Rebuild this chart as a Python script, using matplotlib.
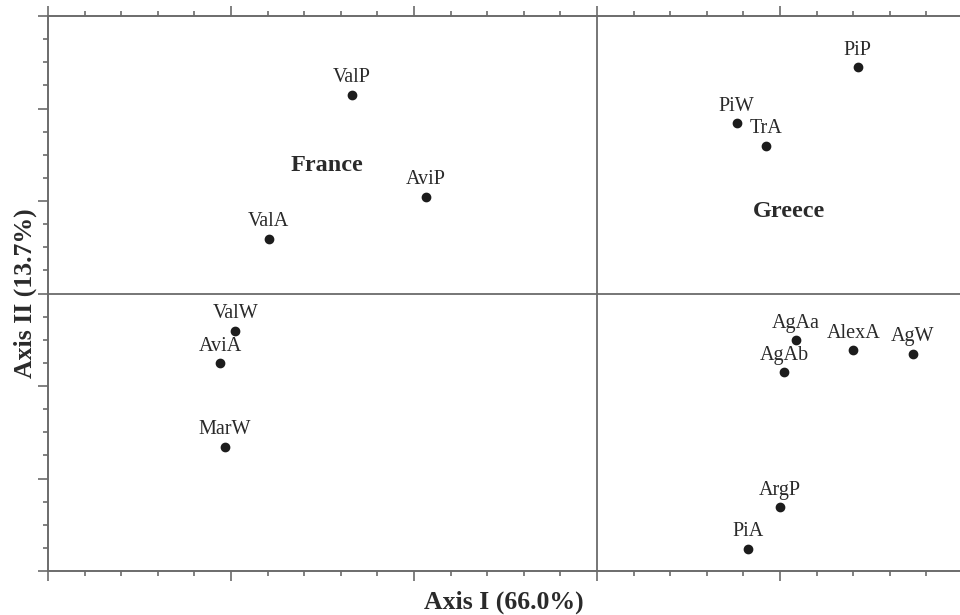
import matplotlib
matplotlib.use("Agg")
import matplotlib.pyplot as plt
from matplotlib.ticker import MultipleLocator

# sample scores on the first two axes
names = ['ValP', 'AviP', 'ValA', 'ValW', 'AviA', 'MarW',
         'PiP', 'PiW', 'TrA', 'AgAa', 'AlexA', 'AgW', 'AgAb', 'ArgP', 'PiA']
axis1 = [-1.340, -0.934, -1.794, -1.977, -2.060, -2.033,
         1.425, 0.763, 0.923, 1.086, 1.401, 1.725, 1.023, 1.000, 0.827]
axis2 = [2.146, 1.046, 0.592, -0.405, -0.755, -1.659,
         2.445, 1.840, 1.595, -0.503, -0.611, -0.654, -0.852, -2.311, -2.759]

groups = ['France', 'Greece']
group_x = [-1.475, 1.049]
group_y = [1.384, 0.886]

line_col = '#6b6b6b'
text_col = '#2a2a2a'
serif = 'Liberation Serif'

fig = plt.figure(figsize=(9.6, 6.15), dpi=100)
ax = fig.add_axes([48/960, 44/615, 912/960, 555/615])

ax.scatter(axis1, axis2, s=36, color='#1c1c1c', zorder=3)
for n, x, y in zip(names, axis1, axis2):
    ax.annotate(n, (x, y), xytext=(0, 9), textcoords='offset points',
                ha='center', va='baseline', fontsize=14.5, family=serif,
                color=text_col)

for g, x, y in zip(groups, group_x, group_y):
    ax.text(x, y, g, ha='center', va='center', fontsize=17.5,
            fontweight='bold', family=serif, color=text_col)

ax.axhline(0, color=line_col, lw=1.3, zorder=1)
ax.axvline(0, color=line_col, lw=1.3, zorder=1)

ax.set_xlim(-3, 1.984)
ax.set_ylim(-3, 3)
ax.xaxis.set_major_locator(MultipleLocator(1))
ax.xaxis.set_minor_locator(MultipleLocator(0.2))
ax.yaxis.set_major_locator(MultipleLocator(1))
ax.yaxis.set_minor_locator(MultipleLocator(0.25))

ax.spines['right'].set_visible(False)
for s in ['top', 'bottom', 'left']:
    ax.spines[s].set_color(line_col)
    ax.spines[s].set_linewidth(1.4)

ax.tick_params(axis='x', which='both', top=True, bottom=True, direction='out',
               labelbottom=False, color=line_col, width=1.2)
ax.tick_params(axis='y', which='both', left=True, right=False, direction='out',
               labelleft=False, color=line_col, width=1.2)
ax.tick_params(which='major', length=7)
ax.tick_params(which='minor', length=3.5)

ax.set_xlabel('Axis I (66.0%)', fontsize=18.5, fontweight='bold', family=serif,
              color=text_col, va='center')
ax.set_ylabel('Axis II (13.7%)', fontsize=18.5, fontweight='bold', family=serif,
              color=text_col, va='center')
ax.xaxis.set_label_coords(0.5, -0.056)
ax.yaxis.set_label_coords(-0.0252, 0.5)

fig.savefig('out.png', dpi=100)
